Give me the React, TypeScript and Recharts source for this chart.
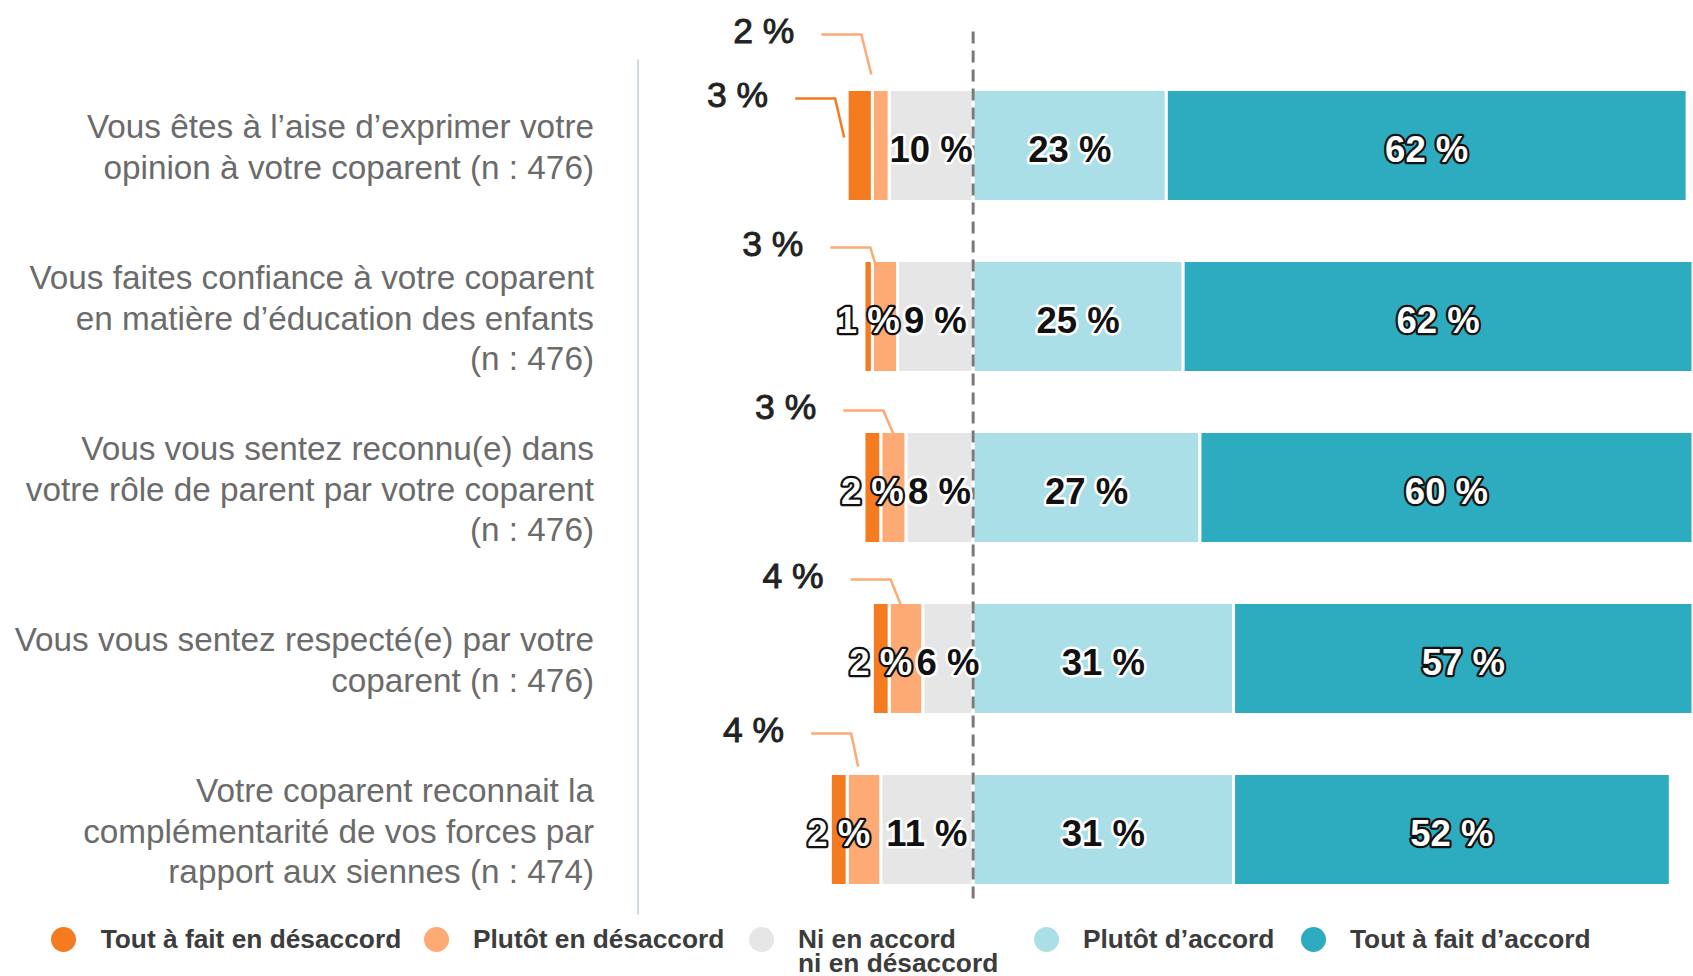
import React from 'react';
import { BarChart, Bar, XAxis, YAxis, ReferenceLine, LabelList, Legend } from 'recharts';

// ---------- data ----------
const categories = [
  'Vous êtes à l’aise d’exprimer votre\nopinion à votre coparent (n : 476)',
  'Vous faites confiance à votre coparent\nen matière d’éducation des enfants\n(n : 476)',
  'Vous vous sentez reconnu(e) dans\nvotre rôle de parent par votre coparent\n(n : 476)',
  'Vous vous sentez respecté(e) par votre\ncoparent (n : 476)',
  'Votre coparent reconnait la\ncomplémentarité de vos forces par\nrapport aux siennes (n : 474)',
];
const toutDesaccord = [3, 1, 2, 2, 2];
const plutotDesaccord = [2, 3, 3, 4, 4];
const niAccordNiDesaccord = [10, 9, 8, 6, 11];
const plutotAccord = [23, 25, 27, 31, 31];
const toutAccord = [62, 62, 60, 57, 52];

const seriesNames: Record<string, string> = {
  tdd: 'Tout à fait en désaccord',
  pdd: 'Plutôt en désaccord',
  nn: 'Ni en accord\nni en désaccord',
  pa: 'Plutôt d’accord',
  ta: 'Tout à fait d’accord',
};
const colors: Record<string, string> = {
  tdd: '#F47B20',
  pdd: '#FDAA74',
  nn: '#E6E6E6',
  pa: '#AADFE8',
  ta: '#2EACBF',
};

const data = categories.map((name, i) => ({
  name,
  nn: -niAccordNiDesaccord[i],
  pdd: -plutotDesaccord[i],
  tdd: -toutDesaccord[i],
  pa: plutotAccord[i],
  ta: toutAccord[i],
}));

// ---------- styling / annotation layout ----------
const FONT = '"Liberation Sans", Arial, sans-serif';
type Placement = { ex: number; ey: number; dx: number; rise: number };
const pddCallouts: Record<number, Placement> = {
  0: { ex: -1, ey: -15, dx: 10, rise: 40 },
  1: { ex: 4, ey: 7, dx: 6, rise: 20 },
  2: { ex: 12.5, ey: 2, dx: 10, rise: 23 },
  3: { ex: 11.5, ey: 2, dx: 10, rise: 25 },
  4: { ex: 11, ey: -7, dx: 7, rise: 33 },
};
const tddCallouts: Record<number, Placement> = {
  0: { ex: -3, ey: 48, dx: 9, rise: 39 },
};
const legendOrder = ['tdd', 'pdd', 'nn', 'pa', 'ta'];
const legendX = [63.7, 436, 761, 1046, 1313];

function rectOf(p: any) {
  const vb = p.viewBox && typeof p.viewBox.x === 'number' ? p.viewBox : p;
  const x = Number(vb.x);
  const y = Number(vb.y);
  const w = Number(vb.width);
  const h = Number(vb.height);
  return {
    left: Math.min(x, x + w),
    top: Math.min(y, y + h),
    width: Math.abs(w),
    height: Math.abs(h),
  };
}

function insideText(r: any, v: number, variant: 'dark' | 'white') {
  return (
    <text
      x={r.left + r.width / 2}
      y={r.top + r.height / 2 + 4}
      textAnchor="middle"
      dominantBaseline="central"
      fontFamily={FONT}
      fontSize={36.5}
      fontWeight="bold"
      fill={variant === 'dark' ? '#111' : '#fff'}
      stroke={variant === 'dark' ? '#fff' : '#111'}
      strokeWidth={variant === 'dark' ? 5 : 4.5}
      strokeLinejoin="round"
      paintOrder="stroke"
    >
      {v} %
    </text>
  );
}

const makeLabel =
  (variant: 'dark' | 'white', callouts: Record<number, Placement> | null, color: string) =>
  (p: any) => {
    const r = rectOf(p);
    if (!isFinite(r.left) || !isFinite(r.top)) return null;
    const v = Math.abs(Number(p.value));
    const idx = Number(p.index);
    const c = callouts ? callouts[idx] : undefined;
    if (!c) return insideText(r, v, variant);
    const endX = r.left + c.ex;
    const endY = r.top + c.ey;
    const elbowX = endX - c.dx;
    const elbowY = endY - c.rise;
    const startX = elbowX - 40;
    return (
      <g>
        <polyline
          points={`${startX},${elbowY} ${elbowX},${elbowY} ${endX},${endY}`}
          fill="none"
          stroke={color}
          strokeWidth={2.5}
        />
        <text
          x={startX - 27}
          y={elbowY - 4}
          textAnchor="end"
          dominantBaseline="central"
          fontFamily={FONT}
          fontSize={35.5}
          fill="#222"
          stroke="#222"
          strokeWidth={0.9}
        >
          {v} %
        </text>
      </g>
    );
  };

const CategoryTick = (props: any) => {
  const { x, y, payload } = props;
  const lines = String(payload.value).split('\n');
  const spacing = 40.5;
  return (
    <g>
      {lines.map((ln, i) => (
        <text
          key={i}
          x={x}
          y={y + 2 + (i - (lines.length - 1) / 2) * spacing}
          textAnchor="end"
          dominantBaseline="central"
          fontFamily={FONT}
          fontSize={33.3}
          fill="#6b6b6b"
        >
          {ln}
        </text>
      ))}
    </g>
  );
};

const LegendContent = (props: any) => {
  const payload: any[] = props.payload || [];
  return (
    <div style={{ position: 'absolute', left: 0, top: 0 }}>
      {legendOrder.map((key, i) => {
        const entry = payload.find((e) => e.dataKey === key);
        const color = (entry && entry.color) || colors[key];
        const label = String((entry && entry.value) || seriesNames[key]);
        return (
          <React.Fragment key={key}>
            <div
              style={{
                position: 'absolute',
                left: legendX[i] - 12.5,
                top: 926.5,
                width: 25,
                height: 25,
                borderRadius: '50%',
                background: color,
              }}
            />
            <div
              style={{
                position: 'absolute',
                left: legendX[i] + 37,
                top: 926.5,
                fontFamily: FONT,
                fontSize: 26.3,
                lineHeight: '24.5px',
                fontWeight: 'bold',
                color: '#3c3c3c',
                whiteSpace: 'pre',
              }}
            >
              {label}
            </div>
          </React.Fragment>
        );
      })}
    </div>
  );
};

const ZeroLine = (p: any) => {
  const yMin = Math.min(p.y1, p.y2);
  const yMax = Math.max(p.y1, p.y2);
  return (
    <line
      x1={p.x1}
      x2={p.x2}
      y1={yMin - 28}
      y2={yMax - 12}
      stroke="#7a7a7a"
      strokeWidth={3}
      strokeDasharray="12 7"
    />
  );
};

export default function App() {
  return (
    <div style={{ position: 'absolute', left: 0, top: 0, width: 1693, height: 976, background: '#fff' }}>
      <BarChart
        width={1693}
        height={976}
        data={data}
        layout="vertical"
        stackOffset="sign"
        barSize={112}
        margin={{ top: 59.5, right: 0, bottom: 61.5, left: 0 }}
      >
        <XAxis type="number" domain={[-39.9, 85.7]} hide allowDataOverflow />
        <YAxis
          type="category"
          dataKey="name"
          width={638}
          tickSize={0}
          tickMargin={44}
          tickLine={false}
          axisLine={{ stroke: '#d0d9e9', strokeWidth: 2 }}
          tick={<CategoryTick />}
          interval={0}
        />
        <Bar dataKey="nn" name={seriesNames.nn} stackId="s" fill={colors.nn} stroke="#fff" strokeWidth={3} isAnimationActive={false}>
          <LabelList dataKey="nn" content={makeLabel('dark', null, colors.nn)} />
        </Bar>
        <Bar dataKey="pdd" name={seriesNames.pdd} stackId="s" fill={colors.pdd} stroke="#fff" strokeWidth={3} isAnimationActive={false}>
          <LabelList dataKey="pdd" content={makeLabel('dark', pddCallouts, colors.pdd)} />
        </Bar>
        <Bar dataKey="tdd" name={seriesNames.tdd} stackId="s" fill={colors.tdd} stroke="#fff" strokeWidth={3} isAnimationActive={false}>
          <LabelList dataKey="tdd" content={makeLabel('white', tddCallouts, colors.tdd)} />
        </Bar>
        <Bar dataKey="pa" name={seriesNames.pa} stackId="s" fill={colors.pa} stroke="#fff" strokeWidth={3} isAnimationActive={false}>
          <LabelList dataKey="pa" content={makeLabel('dark', null, colors.pa)} />
        </Bar>
        <Bar dataKey="ta" name={seriesNames.ta} stackId="s" fill={colors.ta} stroke="#fff" strokeWidth={3} isAnimationActive={false}>
          <LabelList dataKey="ta" content={makeLabel('white', null, colors.ta)} />
        </Bar>
        <ReferenceLine x={0} ifOverflow="visible" shape={ZeroLine} />
        <Legend
          content={LegendContent}
          wrapperStyle={{ position: 'absolute', left: 0, top: 0, width: 0, height: 0, margin: 0 }}
        />
      </BarChart>
    </div>
  );
}
